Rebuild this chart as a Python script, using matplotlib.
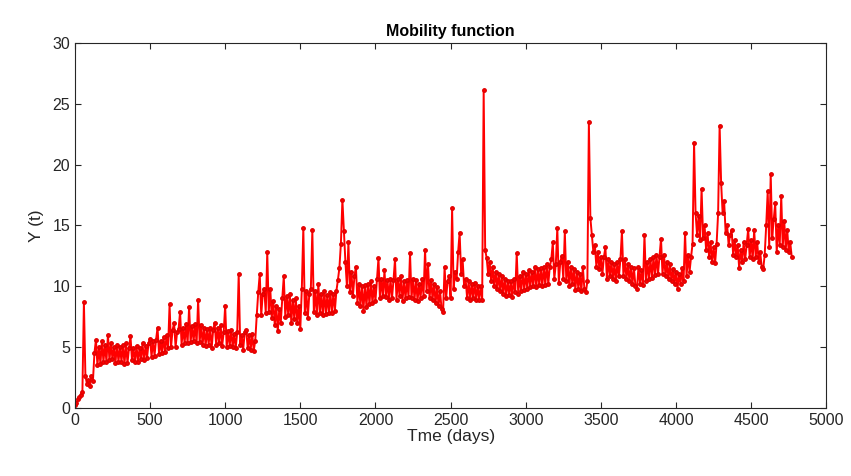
import matplotlib.pyplot as plt
import numpy as np

plt.rcParams['font.family'] = ['Liberation Sans', 'DejaVu Sans']

# Y(t), one value every 10 days (day 0 to 4770)
step_days = 10
mobility = [
    0.2, 0.4, 0.7, 0.9, 1.1, 1.3, 8.7, 2.6, 2.0, 2.3,
    1.8, 2.6, 2.2, 4.5, 5.6, 3.5, 5.0, 3.6, 5.5, 3.8,
    5.2, 3.8, 6.0, 3.9, 5.3, 4.0, 5.0, 3.7, 5.2, 3.8,
    5.0, 3.8, 5.2, 3.6, 5.3, 3.7, 4.9, 5.9, 3.9, 4.9,
    3.8, 5.1, 3.8, 4.9, 4.0, 5.3, 3.9, 5.1, 4.1, 5.3,
    5.7, 4.2, 5.5, 4.3, 5.6, 6.6, 4.4, 5.5, 4.5, 5.8,
    4.6, 6.0, 4.9, 8.5, 5.0, 6.4, 7.0, 5.0, 6.2, 6.5,
    7.9, 5.2, 6.6, 5.3, 6.9, 5.3, 8.3, 5.4, 6.7, 5.5,
    6.9, 5.3, 8.9, 5.4, 6.8, 5.2, 6.6, 5.1, 6.5, 5.2,
    6.6, 4.9, 6.4, 7.0, 5.2, 6.6, 5.3, 6.8, 5.1, 6.2,
    8.4, 5.0, 6.3, 5.1, 6.4, 5.0, 6.1, 4.9, 6.2, 11.0,
    5.2, 6.0, 4.8, 6.2, 6.4, 4.9, 6.0, 4.8, 6.1, 4.7,
    5.5, 7.6, 9.5, 11.0, 7.6, 9.4, 9.8, 7.8, 12.8, 7.9,
    9.8, 7.4, 8.8, 6.8, 8.4, 6.3, 8.1, 7.0, 9.0, 10.8,
    7.5, 9.2, 7.6, 9.4, 7.0, 8.9, 7.3, 9.0, 7.0, 8.4,
    6.5, 9.8, 14.8, 7.8, 9.6, 7.4, 9.4, 9.8, 14.6, 7.9,
    9.6, 7.6, 10.2, 7.8, 9.4, 7.6, 9.6, 7.7, 9.3, 7.8,
    9.5, 7.8, 9.4, 8.0, 9.6, 10.5, 11.5, 13.5, 17.1, 14.5,
    12.0, 10.0, 13.6, 9.5, 11.2, 9.2, 10.8, 11.6, 8.6, 10.2,
    8.4, 10.0, 8.0, 10.1, 8.3, 10.2, 8.5, 10.4, 8.6, 10.0,
    8.8, 10.6, 12.3, 9.0, 10.6, 9.2, 11.3, 9.1, 10.5, 8.9,
    10.6, 9.0, 10.5, 12.2, 8.9, 10.6, 9.2, 10.8, 8.8, 10.4,
    9.0, 10.5, 9.1, 12.7, 9.0, 10.6, 8.9, 10.5, 8.8, 10.2,
    9.0, 10.6, 9.2, 13.0, 9.6, 11.8, 9.0, 10.5, 8.9, 10.2,
    8.6, 9.9, 8.4, 9.6, 8.1, 7.9, 11.6, 9.0, 10.4, 10.8,
    9.0, 16.4, 9.8, 11.2, 10.6, 12.8, 14.4, 11.0, 12.2, 10.0,
    10.6, 9.0, 10.4, 8.9, 10.2, 9.0, 10.3, 8.9, 10.0, 8.9,
    10.0, 8.9, 26.1, 13.0, 12.3, 11.0, 12.0, 10.4, 11.6, 10.0,
    11.2, 9.8, 11.0, 9.6, 10.8, 9.4, 10.6, 9.2, 10.4, 9.3,
    10.4, 9.1, 10.6, 9.5, 12.7, 9.4, 10.8, 9.6, 11.2, 9.7,
    11.0, 9.8, 11.3, 9.9, 11.2, 10.0, 11.6, 9.9, 11.4, 10.1,
    11.5, 10.0, 11.6, 10.1, 11.8, 10.2, 11.6, 12.2, 13.6, 10.6,
    11.8, 14.8, 10.3, 12.0, 12.5, 10.6, 14.5, 10.4, 12.0, 10.0,
    11.6, 10.2, 11.4, 9.7, 11.2, 9.8, 11.0, 9.6, 11.6, 9.8,
    9.5, 10.4, 23.5, 15.6, 14.2, 12.8, 13.4, 11.6, 12.8, 11.4,
    12.4, 11.0, 12.4, 13.2, 10.6, 12.2, 10.8, 12.0, 10.6, 11.8,
    10.4, 12.0, 10.8, 12.2, 14.5, 10.8, 12.2, 10.6, 11.8, 10.4,
    11.6, 10.2, 11.5, 10.0, 9.8, 11.6, 10.2, 11.3, 10.1, 14.2,
    10.4, 12.0, 10.6, 12.2, 10.7, 12.4, 10.9, 12.6, 11.0, 12.4,
    13.9, 11.0, 12.6, 10.8, 12.0, 10.6, 11.8, 10.4, 11.4, 10.2,
    11.2, 9.8, 11.0, 10.2, 11.5, 10.4, 14.4, 10.8, 12.6, 11.2,
    12.4, 13.5, 21.8, 16.0, 14.2, 15.8, 13.8, 18.0, 14.0, 15.0,
    13.0, 14.4, 12.4, 13.6, 12.0, 13.2, 11.9, 13.5, 16.0, 23.2,
    18.5, 16.0, 17.0, 14.4, 15.0, 13.4, 14.2, 14.6, 12.6, 13.8,
    12.4, 13.4, 11.5, 13.0, 12.0, 13.6, 12.2, 13.4, 14.7, 12.4,
    13.8, 12.2, 14.6, 12.4, 13.6, 12.0, 12.8, 11.6, 11.4, 12.6,
    15.0, 17.8, 13.2, 19.2, 14.0, 15.5, 16.8, 12.8, 15.0, 13.4,
    17.4, 13.2, 15.4, 13.0, 14.6, 12.8, 13.6, 12.4,
]
days = np.arange(len(mobility)) * step_days

fig = plt.figure(figsize=(8.51, 4.76), dpi=100)
ax = fig.add_axes([0.088, 0.143, 0.883, 0.767])

ax.plot(days, mobility, color='#ff0000', linewidth=1.4, marker='.', markersize=5,
        markerfacecolor='#ff0000', markeredgecolor='#e00000')

text_color = '#262626'
ax.set_xlim(0, 5000)
ax.set_ylim(0, 30)
ax.set_xticks(np.arange(0, 5001, 500))
ax.set_yticks(np.arange(0, 31, 5))
ax.tick_params(direction='in', top=True, right=True, length=4, width=0.8,
               labelsize=11.5, colors=text_color)
for s in ax.spines.values():
    s.set_color(text_color)
    s.set_linewidth(0.8)

ax.set_title('Mobility function', fontsize=11.5, fontweight='bold', color='black', pad=5)
ax.set_xlabel('Tme (days)', fontsize=12.5, color=text_color, labelpad=1)
ax.set_ylabel('Y (t)', fontsize=12.5, color=text_color, labelpad=6)

plt.savefig('out.png', dpi=100)
